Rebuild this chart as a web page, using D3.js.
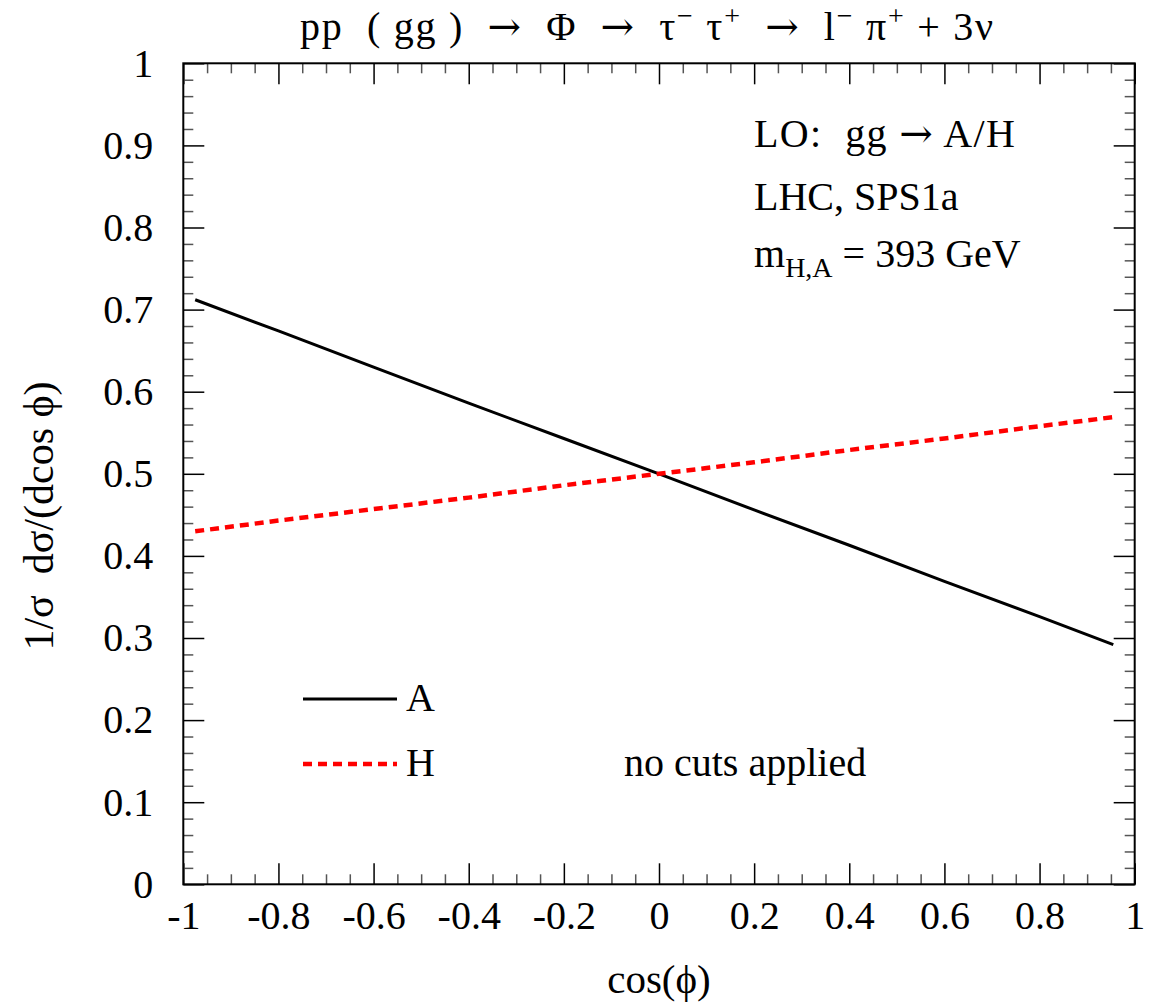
<!DOCTYPE html>
<html>
<head>
<meta charset="utf-8">
<script src="https://cdn.jsdelivr.net/npm/d3@7"></script>
<style>
  body { margin: 0; background: #fff; }
  svg text { font-family: "Liberation Serif", "Times New Roman", Times, serif; fill: #000; white-space: pre; }
  svg .arrow { font-family: "DejaVu Serif", serif; }
</style>
</head>
<body>
<svg id="chart" width="1156" height="1004"></svg>
<script>
// values
const cosPhi = [-0.975, -0.8, -0.6, -0.4, -0.2, 0, 0.2, 0.4, 0.6, 0.8, 0.955];
const seriesA = [0.712, 0.674, 0.630, 0.586, 0.543, 0.500, 0.456, 0.413, 0.369, 0.326, 0.292];
const seriesH = [0.430, 0.443, 0.457, 0.471, 0.486, 0.500, 0.514, 0.529, 0.543, 0.558, 0.569];
const xMajor = [-1, -0.8, -0.6, -0.4, -0.2, 0, 0.2, 0.4, 0.6, 0.8, 1];
const yMajor = [0, 0.1, 0.2, 0.3, 0.4, 0.5, 0.6, 0.7, 0.8, 0.9, 1];
const xLabels = ["-1", "-0.8", "-0.6", "-0.4", "-0.2", "0", "0.2", "0.4", "0.6", "0.8", "1"];
const yLabels = ["0", "0.1", "0.2", "0.3", "0.4", "0.5", "0.6", "0.7", "0.8", "0.9", "1"];
const legendNames = ["A", "H"];

const plotLeft = 183.3, plotRight = 1134.7, plotTop = 63.3, plotBottom = 884.3;
const serif = "'Liberation Serif', 'Times New Roman', Times, serif";

const x = d3.scaleLinear().domain([-1, 1]).range([plotLeft, plotRight]);
const y = d3.scaleLinear().domain([0, 1]).range([plotBottom, plotTop]);

const svg = d3.select("#chart");

const xMinor = d3.range(-1, 1.0001, 0.05).map(v => +v.toFixed(2)).filter(v => !xMajor.includes(v));
const yMinor = d3.range(0, 1.0001, 0.02).map(v => +v.toFixed(2)).filter(v => !yMajor.some(m => Math.abs(m - v) < 1e-6));

function styleTicks(g, color) {
  g.attr("font-family", serif);
  g.select(".domain").remove();
  g.selectAll(".tick line").attr("stroke", color).attr("stroke-width", 1.5);
}

// bottom axis, ticks pointing inward
svg.append("g")
    .attr("transform", `translate(0,${plotBottom})`)
    .call(d3.axisBottom(x).tickValues(xMajor).tickSize(-21).tickPadding(16)
      .tickFormat((d, i) => xLabels[i]))
    .call(g => styleTicks(g, "#000"))
    .call(g => g.selectAll("text").attr("font-size", 40));
svg.append("g")
    .attr("transform", `translate(0,${plotBottom})`)
    .call(d3.axisBottom(x).tickValues(xMinor).tickSize(-10).tickFormat(""))
    .call(g => styleTicks(g, "#555"));

// top axis mirror
svg.append("g")
    .attr("transform", `translate(0,${plotTop})`)
    .call(d3.axisTop(x).tickValues(xMajor).tickSize(-21).tickFormat(""))
    .call(g => styleTicks(g, "#000"));
svg.append("g")
    .attr("transform", `translate(0,${plotTop})`)
    .call(d3.axisTop(x).tickValues(xMinor).tickSize(-10).tickFormat(""))
    .call(g => styleTicks(g, "#555"));

// left axis
svg.append("g")
    .attr("transform", `translate(${plotLeft},0)`)
    .call(d3.axisLeft(y).tickValues(yMajor).tickSize(-21).tickPadding(30)
      .tickFormat((d, i) => yLabels[i]))
    .call(g => styleTicks(g, "#000"))
    .call(g => g.selectAll("text").attr("font-size", 40));
svg.append("g")
    .attr("transform", `translate(${plotLeft},0)`)
    .call(d3.axisLeft(y).tickValues(yMinor).tickSize(-10).tickFormat(""))
    .call(g => styleTicks(g, "#555"));

// right axis mirror
svg.append("g")
    .attr("transform", `translate(${plotRight},0)`)
    .call(d3.axisRight(y).tickValues(yMajor).tickSize(-21).tickFormat(""))
    .call(g => styleTicks(g, "#000"));
svg.append("g")
    .attr("transform", `translate(${plotRight},0)`)
    .call(d3.axisRight(y).tickValues(yMinor).tickSize(-10).tickFormat(""))
    .call(g => styleTicks(g, "#555"));

// frame
svg.append("rect")
    .attr("x", plotLeft).attr("y", plotTop)
    .attr("width", plotRight - plotLeft).attr("height", plotBottom - plotTop)
    .attr("fill", "none").attr("stroke", "#000").attr("stroke-width", 2);

// curves
const line = d3.line().x(d => x(d[0])).y(d => y(d[1]));

svg.append("path")
    .datum(cosPhi.map((c, i) => [c, seriesA[i]]))
    .attr("d", line)
    .attr("fill", "none").attr("stroke", "#000").attr("stroke-width", 3);

svg.append("path")
    .datum(cosPhi.map((c, i) => [c, seriesH[i]]))
    .attr("d", line)
    .attr("fill", "none").attr("stroke", "#ff0000").attr("stroke-width", 4.5)
    .attr("stroke-dasharray", "9,6");

// legend
const legend = svg.append("g");
legendNames.forEach((name, i) => {
  const ly = 699 + i * 65;
  legend.append("line")
      .attr("x1", 303).attr("x2", 397).attr("y1", ly).attr("y2", ly)
      .attr("stroke", i === 0 ? "#000" : "#ff0000")
      .attr("stroke-width", i === 0 ? 3 : 4.5)
      .attr("stroke-dasharray", i === 0 ? null : "9,6");
  legend.append("text")
      .attr("x", 406).attr("y", ly + 12)
      .attr("font-size", 40)
      .text(name);
});
svg.append("text")
    .attr("x", 624).attr("y", 776)
    .attr("font-size", 40)
    .text("no cuts applied");

// annotations
const lo = svg.append("text").attr("x", 754).attr("y", 147).attr("font-size", 40)
    .attr("textLength", 261).attr("lengthAdjust", "spacing");
lo.append("tspan").text("LO:  gg ");
lo.append("tspan").attr("class", "arrow").attr("font-size", 40).text("\u2192");
lo.append("tspan").text(" A/H");
svg.append("text").attr("x", 754).attr("y", 210).attr("font-size", 40)
    .text("LHC, SPS1a");
const mass = svg.append("text").attr("x", 754).attr("y", 267).attr("font-size", 40);
mass.append("tspan").text("m");
mass.append("tspan").attr("font-size", 28).attr("dy", 10).text("H,A");
mass.append("tspan").attr("dy", -10).text(" = 393 GeV");

// title
const title = svg.append("text")
    .attr("x", 646.5).attr("y", 40)
    .attr("text-anchor", "middle")
    .attr("font-size", 40)
    .attr("textLength", 693)
    .attr("lengthAdjust", "spacing");
const arrow = () => title.append("tspan").attr("class", "arrow").attr("font-size", 40).text("\u2192");
const sup = s => { title.append("tspan").attr("font-size", 28).attr("dy", -15).text(s); };
const base = s => title.append("tspan").attr("dy", 15).text(s);
title.append("tspan").text("pp  ( gg )  ");
arrow();
title.append("tspan").text("  \u03A6  ");
arrow();
title.append("tspan").text("  \u03C4");
sup("\u2212");
base(" \u03C4");
sup("+");
base("  ");
arrow();
title.append("tspan").text("  l");
sup("\u2212");
base(" \u03C0");
sup("+");
base(" + 3\u03BD");

// axis titles
svg.append("text")
    .attr("x", (plotLeft + plotRight) / 2).attr("y", 993)
    .attr("text-anchor", "middle")
    .attr("font-size", 41)
    .text("cos(\u03D5)");

svg.append("text")
    .attr("transform", "translate(53,516) rotate(-90)")
    .attr("text-anchor", "middle")
    .attr("font-size", 42)
    .text("1/\u03C3  d\u03C3/(dcos \u03D5)");
</script>
</body>
</html>
